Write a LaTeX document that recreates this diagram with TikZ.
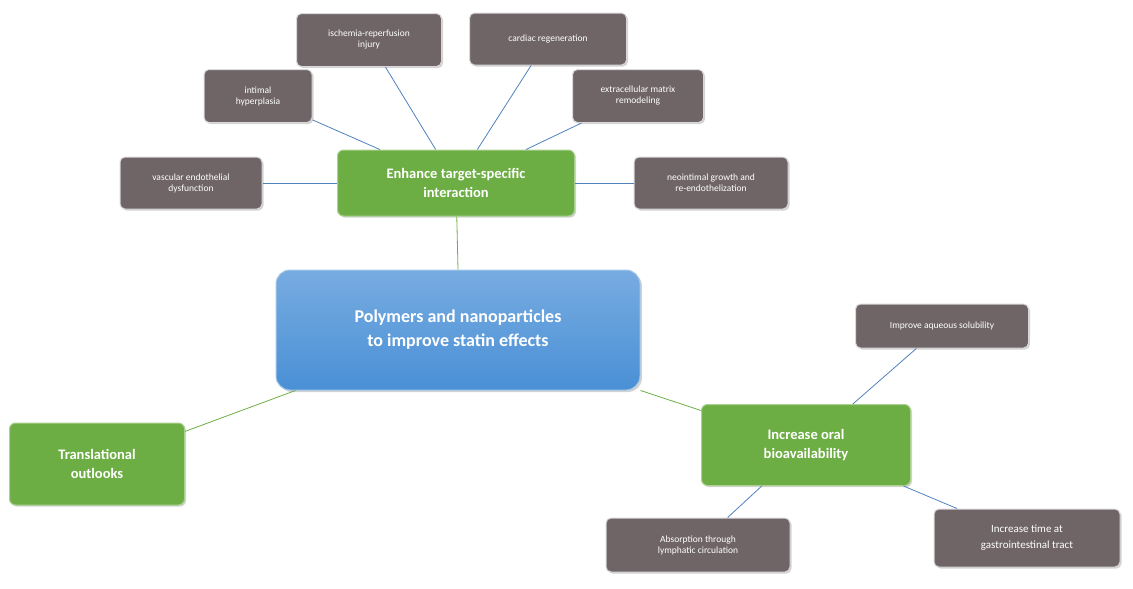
\documentclass[tikz,border=0pt]{standalone}
\usepackage{fontspec}
\setmainfont{Carlito}
\usetikzlibrary{shadows}
\definecolor{gbox}{HTML}{6F6567}
\definecolor{gboxb}{HTML}{D9D9D9}
\definecolor{grn}{HTML}{6DAE44}
\definecolor{grnb}{HTML}{A9D18E}
\definecolor{blu}{HTML}{4A90D6}
\definecolor{lnk}{HTML}{4F81BD}
\definecolor{glnk}{HTML}{70AD47}
\tikzset{
 leaf/.style={draw=gboxb,line width=1pt,fill=gbox,rounded corners=5pt,text=white,align=center,font=\fontsize{9.5}{11}\selectfont,inner sep=2pt,drop shadow={opacity=0.35,shadow xshift=1.5pt,shadow yshift=-1.5pt}},
 hub/.style={draw=grnb,line width=1pt,fill=grn,rounded corners=6pt,text=white,align=center,font=\fontsize{14.5}{19}\selectfont\bfseries,inner sep=2pt,drop shadow={opacity=0.35,shadow xshift=1.5pt,shadow yshift=-1.5pt}},
 core/.style={draw=blu!50!white,line width=1pt,top color=blu!75!white,bottom color=blu,rounded corners=14pt,text=white,align=center,font=\fontsize{18}{24}\selectfont\bfseries,drop shadow={opacity=0.35,shadow xshift=2pt,shadow yshift=-2pt}},
 bl/.style={draw=lnk,line width=0.8pt},
 gl/.style={draw=glnk,line width=0.8pt}
}
\begin{document}
\begin{tikzpicture}[x=1pt,y=-1pt]
\useasboundingbox (0,0) rectangle (1133,589);
\node[core,minimum width=364pt,minimum height=120pt] (c) at (458,330) {Polymers and nanoparticles\\to improve statin effects};
\node[hub,minimum width=237pt,minimum height=66pt] (e) at (456,183) {Enhance target-specific\\interaction};
\node[hub,minimum width=175pt,minimum height=82pt] (t) at (97,464) {Translational\\outlooks};
\node[hub,minimum width=209pt,minimum height=81pt] (o) at (806,445) {Increase oral\\bioavailability};
\node[leaf,minimum width=142pt,minimum height=52pt] (l1) at (191,183) {vascular endothelial\\dysfunction};
\node[leaf,minimum width=108pt,minimum height=53pt] (l2) at (258,96) {intimal\\hyperplasia};
\node[leaf,minimum width=145pt,minimum height=53pt] (l3) at (369,40) {ischemia-reperfusion\\injury};
\node[leaf,minimum width=157pt,minimum height=52pt] (l4) at (548,39) {cardiac regeneration};
\node[leaf,minimum width=131pt,minimum height=53pt] (l5) at (638,96) {extracellular matrix\\remodeling};
\node[leaf,minimum width=154pt,minimum height=52pt] (l6) at (711,183) {neointimal growth and\\re-endothelization};
\node[leaf,minimum width=173pt,minimum height=44pt] (m1) at (942,326) {Improve aqueous solubility};
\node[leaf,minimum width=184pt,minimum height=54pt] (m2) at (698,545) {Absorption through\\lymphatic circulation};
\node[leaf,minimum width=186pt,minimum height=58pt,font=\fontsize{11}{16}\selectfont] (m3) at (1027,538) {Increase time at\\gastrointestinal tract};
\begin{scope}[on background layer/.try]
\end{scope}
\draw[gl] (c.north) ++(0,0) -- (e);
\draw[gl] (c.south west) ++(20pt,0) coordinate (cs) ; \draw[gl] (cs) -- (t);
\draw[gl] (c.south east) -- (o);
\draw[bl] (e) -- (l1);
\draw[bl] (e) -- (l2);
\draw[bl] (e) -- (l3);
\draw[bl] (e) -- (l4);
\draw[bl] (e) -- (l5);
\draw[bl] (e) -- (l6);
\draw[bl] (o) -- (m1);
\draw[bl] (o) -- (m2);
\draw[bl] (o) -- (m3);
\end{tikzpicture}
\end{document}
